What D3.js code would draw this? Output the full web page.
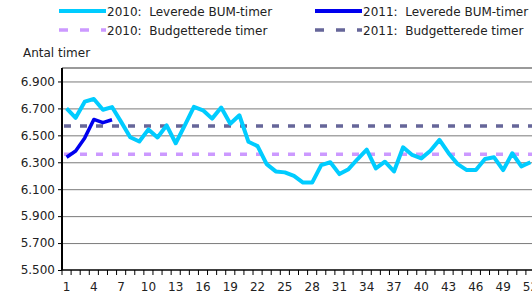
<!DOCTYPE html>
<html lang="da">
<head>
  <meta charset="UTF-8">
  <script src="https://d3js.org/d3.v7.min.js"></script>
  <style>
    html, body { margin: 0; padding: 0; background: #fff; }
    svg { display: block; font-family: "DejaVu Sans", Verdana, sans-serif; }
    .grid line { stroke: #7a7a7a; stroke-width: 1; }
  </style>
</head>
<body>
  <svg id="chart" width="532" height="292"></svg>
  <script>
    // weeks 1..52
    const weeks = d3.range(1, 53);
    const weekLabels = weeks.filter(w => (w - 1) % 3 === 0);
    const yTicks = [5500, 5700, 5900, 6100, 6300, 6500, 6700, 6900];

    // 2010: delivered hours per week
    const leveret2010 = [
      6700, 6630, 6750, 6770, 6690, 6710, 6600, 6486, 6454, 6544,
      6484, 6574, 6441, 6574, 6711, 6686, 6624, 6706, 6586, 6649,
      6452, 6420, 6286, 6232, 6225, 6199, 6149, 6149, 6279, 6300,
      6212, 6249, 6324, 6394, 6254, 6304, 6232, 6411, 6354, 6329,
      6386, 6466, 6367, 6286, 6242, 6242, 6324, 6337, 6242, 6367,
      6269, 6300
    ];
    // 2011: delivered hours so far
    const leveret2011 = [6337, 6384, 6481, 6618, 6594, 6616];
    const budget2010 = 6360;
    const budget2011 = 6570;

    const svg = d3.select("#chart");
    const margin = { top: 68, left: 62, bottom: 270, right: 535 };

    const x = d3.scaleBand().domain(weeks).range([margin.left, margin.right]).padding(0);
    const cx = d => x(d) + x.bandwidth() / 2;
    const y = d3.scaleLinear().domain([5500, 7000]).range([margin.bottom, margin.top]);

    // top border
    svg.append("line")
      .attr("x1", margin.left).attr("x2", 532)
      .attr("y1", margin.top).attr("y2", margin.top)
      .attr("stroke", "#9a9a9a").attr("stroke-width", 2);

    // gridlines
    svg.append("g")
      .attr("class", "grid")
      .attr("transform", `translate(${margin.left},0)`)
      .call(d3.axisLeft(y).tickValues(yTicks.slice(1)).tickSize(-(532 - margin.left)).tickFormat(""))
      .call(g => g.select(".domain").remove());

    // y axis
    const yAxis = svg.append("g")
      .attr("transform", `translate(${margin.left},0)`)
      .call(d3.axisLeft(y).tickValues(yTicks).tickSize(4).tickPadding(3)
        .tickFormat(d => d3.format(".3f")(d / 1000)));
    yAxis.select(".domain").attr("d", `M0,${margin.top}V${margin.bottom}`).attr("stroke", "#000").attr("stroke-width", 2);
    yAxis.selectAll(".tick line").attr("stroke", "#000");
    yAxis.selectAll("text").attr("font-size", 12).attr("fill", "#222")
      .attr("font-family", "DejaVu Sans, Verdana, sans-serif");

    // x axis with ticks between categories
    const xAxis = svg.append("g").attr("transform", `translate(0,${margin.bottom})`);
    xAxis.append("line")
      .attr("x1", margin.left).attr("x2", 532)
      .attr("stroke", "#000").attr("stroke-width", 1.5);
    xAxis.selectAll("line.tk").data(weeks.concat([53]))
      .join("line").attr("class", "tk")
      .attr("x1", d => d <= 52 ? x(d) : margin.right)
      .attr("x2", d => d <= 52 ? x(d) : margin.right)
      .attr("y1", 0).attr("y2", 5)
      .attr("stroke", "#000");
    xAxis.selectAll("text").data(weekLabels)
      .join("text")
      .attr("x", d => cx(d)).attr("y", 21)
      .attr("text-anchor", "middle")
      .attr("font-size", 12).attr("fill", "#222")
      .text(d => d);

    // budget lines
    const budgetLine = (v, color) => svg.append("line")
      .attr("x1", margin.left + 2).attr("x2", 532)
      .attr("y1", y(v)).attr("y2", y(v))
      .attr("stroke", color).attr("stroke-width", 3.5)
      .attr("stroke-dasharray", "7,9");
    budgetLine(budget2010, "#cc99ff");
    budgetLine(budget2011, "#666699");

    // delivered lines
    const line = d3.line().x((d, i) => cx(weeks[i])).y(d => y(d));
    svg.append("path").datum(leveret2010)
      .attr("d", line).attr("fill", "none")
      .attr("stroke", "#00ccff").attr("stroke-width", 4).attr("stroke-linejoin", "round");
    svg.append("path").datum(leveret2011)
      .attr("d", line).attr("fill", "none")
      .attr("stroke", "#0000ee").attr("stroke-width", 3.5).attr("stroke-linejoin", "round");

    // y axis title
    svg.append("text").attr("x", 23).attr("y", 57)
      .attr("font-size", 12).attr("fill", "#222").text("Antal timer");

    // legend
    const legend = [
      { label: "2010:  Leverede BUM-timer", color: "#00ccff", dash: null, x: 59, y: 11 },
      { label: "2011:  Leverede BUM-timer", color: "#0000ee", dash: null, x: 315, y: 11 },
      { label: "2010:  Budgetterede timer", color: "#cc99ff", dash: "9,12", x: 59, y: 30 },
      { label: "2011:  Budgetterede timer", color: "#666699", dash: "9,12", x: 315, y: 30 }
    ];
    const lg = svg.append("g").selectAll("g").data(legend).join("g");
    lg.append("line")
      .attr("x1", d => d.x).attr("x2", d => d.x + 47)
      .attr("y1", d => d.y).attr("y2", d => d.y)
      .attr("stroke", d => d.color)
      .attr("stroke-width", d => d.dash ? 3.5 : 4)
      .attr("stroke-dasharray", d => d.dash);
    lg.append("text")
      .attr("x", d => d.x + 48).attr("y", d => d.y + 4.5)
      .attr("font-size", 12).attr("fill", "#222")
      .attr("xml:space", "preserve")
      .style("white-space", "pre")
      .text(d => d.label);
  </script>
</body>
</html>
